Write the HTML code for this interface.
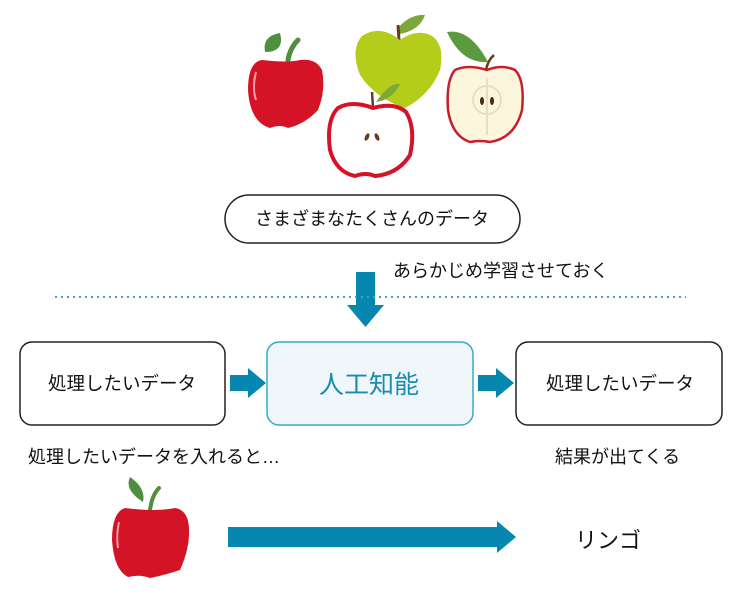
<!DOCTYPE html>
<html><head><meta charset="utf-8"><style>
body{margin:0;background:#fff;}
svg{display:block;font-family:"Liberation Sans","Noto Sans CJK JP",sans-serif;}
</style></head><body>
<svg width="739" height="600" viewBox="0 0 739 600" xmlns="http://www.w3.org/2000/svg">
<path d="M280 33 Q262 36 265 52 Q285 52 280 33Z" fill="#4e8f3f"/>
<path d="M288 60 Q290 48 298 40" stroke="#4e8f3f" stroke-width="5" fill="none" stroke-linecap="round"/>
<path d="M262 60 Q248 62 248 90 Q250 122 270 128 Q280 124 288 128 Q305 124 318 110 Q326 90 322 70 Q316 58 300 60 Q288 63 262 60Z" fill="#d51327"/>
<path d="M256 72 Q252 88 256 100" stroke="#f3a0a8" stroke-width="2" fill="none"/>
<path d="M398 28 Q410 14 425 15 Q420 30 400 34Z" fill="#7ea73a"/>
<path d="M398 25 L399 40" stroke="#6b3a20" stroke-width="3"/>
<path d="M400 40 Q380 24 362 36 Q350 50 360 75 Q375 98 405 108 Q430 95 440 70 Q445 45 432 36 Q418 28 400 40Z" fill="#b4cc1a"/>
<path d="M372 92 L373 108" stroke="#6b3a20" stroke-width="2.5"/>
<path d="M376 102 Q390 82 400 84 Q392 100 376 102Z" fill="#7ea73a"/>
<path d="M373 108 Q352 100 338 108 Q326 120 330 150 Q336 172 355 176 Q366 172 375 176 Q398 174 410 155 Q416 128 406 112 Q395 102 373 108Z" fill="#fff" stroke="#d51327" stroke-width="4"/>
<ellipse cx="367" cy="137" rx="2" ry="4" fill="#6b3a20" transform="rotate(25 367 137)"/>
<ellipse cx="377" cy="137" rx="2" ry="4" fill="#6b3a20" transform="rotate(-25 377 137)"/>
<path d="M447 32 Q470 28 488 62 Q462 64 447 32Z" fill="#5b9a3e"/>
<path d="M486 70 Q488 60 494 55" stroke="#6b3a20" stroke-width="2.5" fill="none"/>
<path d="M487 70 Q468 64 455 70 Q446 80 448 110 Q452 136 470 142 Q480 140 490 142 Q515 138 522 110 Q525 80 515 70 Q502 64 487 70Z" fill="#fbf6dc" stroke="#c81d2d" stroke-width="2.5"/>
<path d="M487 78 L487 135" stroke="#e6e0c0" stroke-width="2"/>
<ellipse cx="487" cy="100" rx="14" ry="14" fill="none" stroke="#e6e0c0" stroke-width="2"/>
<ellipse cx="482" cy="101" rx="2" ry="4" fill="#4a2a18"/>
<ellipse cx="492" cy="101" rx="2" ry="4" fill="#4a2a18"/>

<rect x="225" y="195" width="295" height="48" rx="24" fill="#fff" stroke="#222" stroke-width="1.5"/>
<text x="372" y="225" font-size="18" text-anchor="middle" fill="#111">さまざまなたくさんのデータ</text>
<text x="393" y="277" font-size="18" fill="#111">あらかじめ学習させておく</text>
<path d="M356 272 H375 V305 H384 L365.5 327 L347 305 H356Z" fill="#0587b0"/>
<line x1="55" y1="297" x2="686" y2="297" stroke="#3aa8c5" stroke-width="2" stroke-dasharray="2 4"/>

<rect x="20" y="342" width="205" height="83" rx="12" fill="#fff" stroke="#222" stroke-width="1.5"/>
<text x="122" y="390" font-size="18.5" text-anchor="middle" fill="#111">処理したいデータ</text>
<rect x="267" y="342" width="206" height="83" rx="12" fill="#eff7fa" stroke="#3aa8c5" stroke-width="1.5"/>
<text x="369" y="393" font-size="25" text-anchor="middle" fill="#1a8bb0">人工知能</text>
<rect x="516" y="342" width="206" height="83" rx="12" fill="#fff" stroke="#222" stroke-width="1.5"/>
<text x="620" y="390" font-size="18.5" text-anchor="middle" fill="#111">処理したいデータ</text>
<path d="M230 375 H248 V368 L266 383 L248 398 V391 H230Z" fill="#0587b0"/>
<path d="M478 375 H496 V368 L514 383 L496 398 V391 H478Z" fill="#0587b0"/>

<text x="28" y="463" font-size="18" fill="#111">処理したいデータを入れると…</text>
<text x="555" y="463" font-size="18" fill="#111">結果が出てくる</text>

<path d="M130 477 Q124 490 143 502 Q146 488 130 477Z" fill="#4e8f3f"/>
<path d="M150 510 Q152 495 159 488" stroke="#4e8f3f" stroke-width="4" fill="none" stroke-linecap="round"/>
<path d="M125 508 Q112 512 112 540 Q114 570 128 577 Q140 574 150 578 Q165 575 180 570 Q190 548 189 528 Q188 510 175 508 Q155 512 125 508Z" fill="#d51327"/>
<path d="M119 522 Q116 536 118 548" stroke="#f3a0a8" stroke-width="2" fill="none"/>
<path d="M228 527 H497 V521 L516 537 L497 553 V547 H228Z" fill="#0587b0"/>
<text x="575" y="548" font-size="22" fill="#111">リンゴ</text>
</svg>
</body></html>
